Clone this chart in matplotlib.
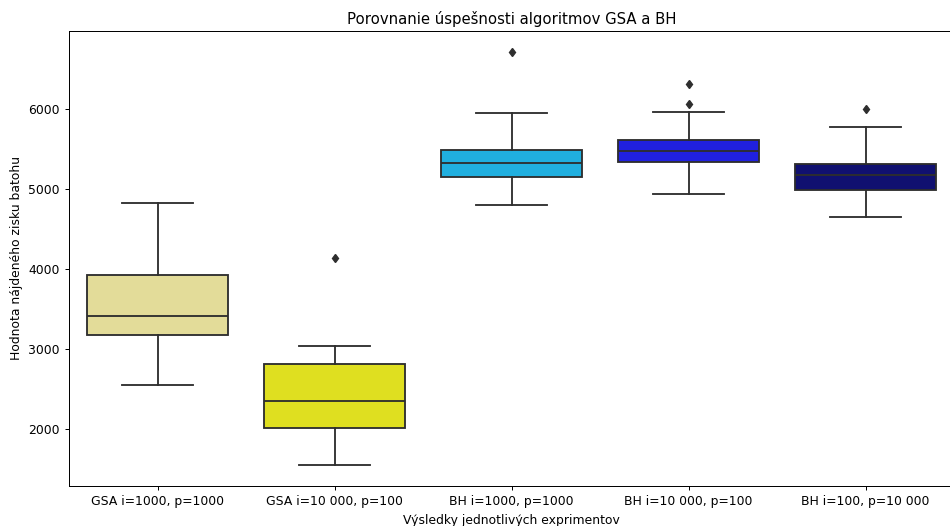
import matplotlib; matplotlib.use("Agg")
import colorsys
import matplotlib.pyplot as plt
import matplotlib.colors as mcolors

labels = ["GSA i=1000, p=1000", "GSA i=10 000, p=100", "BH i=1000, p=1000",
          "BH i=10 000, p=100", "BH i=100, p=10 000"]
whislo = [2549, 1551, 4800, 4934, 4654]
q1 = [3181, 2016, 5154, 5337, 4984]
med = [3414, 2357, 5321, 5478, 5179]
q3 = [3926, 2819, 5487, 5616, 5312]
whishi = [4821, 3040, 5953, 5965, 5774]
fliers = [[], [4135], [6710], [6315, 6061], [6003]]
palette = ["khaki", "yellow", "deepskyblue", "blue", "navy"]

# figure was drawn larger and shrunk; scale text and strokes to suit
k = 0.89
plt.rcParams.update({
    "font.size": 10 * k,
    "axes.linewidth": 0.8 * k,
    "xtick.major.size": 3.5 * k, "ytick.major.size": 3.5 * k,
    "xtick.major.width": 0.8 * k, "ytick.major.width": 0.8 * k,
    "axes.titlepad": 6 * k,
})


def desat(c, prop=0.75):
    h, l, s = colorsys.rgb_to_hls(*mcolors.to_rgb(c))
    return colorsys.hls_to_rgb(h, l, s * prop)


colors = [desat(c) for c in palette]
gray = "#2e2e2e"
lw = 1.5 * k

stats = [dict(whislo=a, q1=b, med=c, q3=d, whishi=e, fliers=f, label=l)
         for a, b, c, d, e, f, l in zip(whislo, q1, med, q3, whishi, fliers, labels)]

fig = plt.figure(figsize=(9.5, 5.26), dpi=100)
ax = fig.add_axes([69 / 950, 40 / 526, 885 / 950, 455 / 526])

bp = ax.bxp(stats, positions=range(len(stats)), widths=0.8, patch_artist=True,
            boxprops=dict(edgecolor=gray, linewidth=lw),
            medianprops=dict(color=gray, linewidth=lw),
            whiskerprops=dict(color=gray, linewidth=lw),
            capprops=dict(color=gray, linewidth=lw),
            flierprops=dict(marker="d", markerfacecolor=gray, markeredgecolor=gray,
                            markersize=5 * k))
for box, c in zip(bp["boxes"], colors):
    box.set_facecolor(c)

ax.set_xlim(-0.5, len(stats) - 0.5)
ax.set_ylim(1292, 6973)
ax.set_xticks(range(len(stats)))
ax.set_xticklabels(labels)
ax.set_title("Porovnanie úspešnosti algoritmov GSA a BH")
ax.set_xlabel("Výsledky jednotlivých exprimentov")
ax.set_ylabel("Hodnota nájdeného zisku batohu")

fig.savefig("out.png", dpi=100)
